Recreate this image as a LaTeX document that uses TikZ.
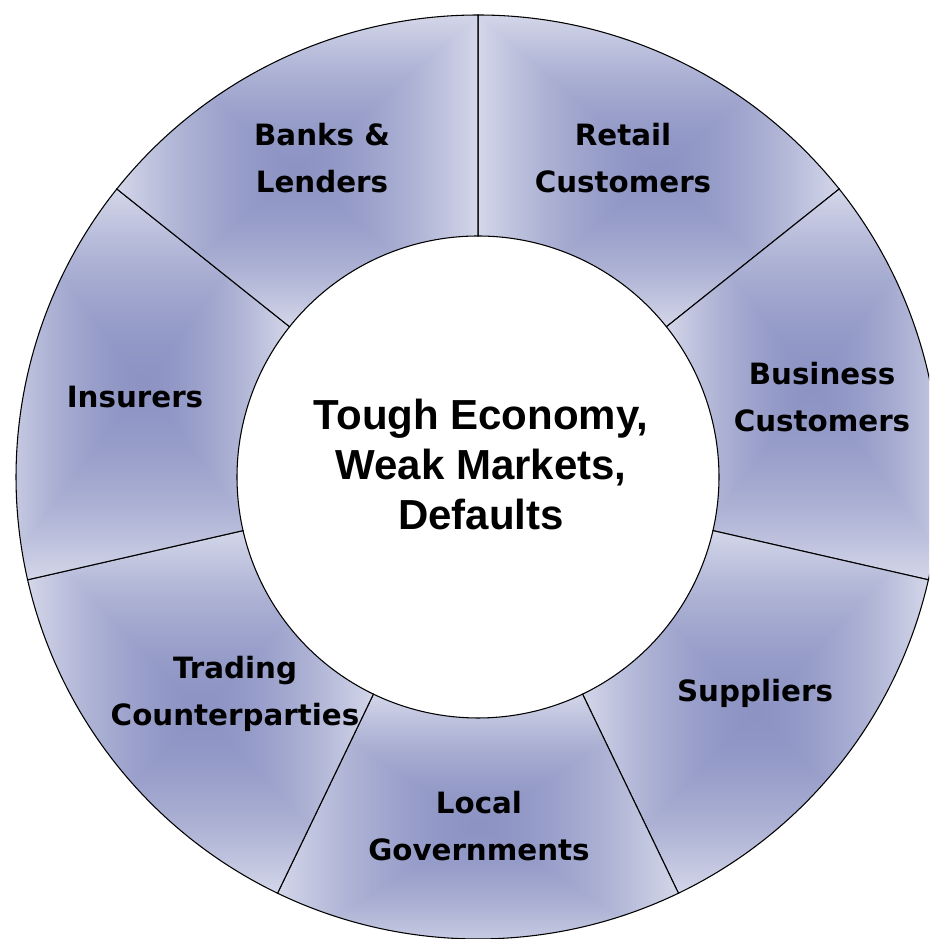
\documentclass[tikz,border=0pt]{standalone}
\usepackage{fontspec}
\newfontfamily\hubfont{Liberation Sans}
\newfontfamily\ringfont{DejaVu Sans}

% box gradient: dark blue in the middle, pale towards the bounding box
\pgfdeclarefunctionalshading{boxfade}{\pgfpoint{-50bp}{-50bp}}{\pgfpoint{50bp}{50bp}}{}{
 abs exch abs 2 copy lt {exch} if pop 25 div dup 1 gt {pop 1} if 1.7 exp
 dup 0.278 mul 0.553 add exch dup 0.263 mul 0.580 add exch 0.147 mul 0.767 add}

\tikzset{
 wedge/.style={draw=black,line width=.8pt,shade,shading=boxfade},
 ringlabel/.style={font=\ringfont\bfseries\fontsize{22}{35}\selectfont,align=center,inner sep=0pt},
 hub/.style={font=\hubfont\bfseries\fontsize{31.5}{37.5}\selectfont,align=center,inner sep=0pt}
}

\begin{document}
\begin{tikzpicture}[x=.75pt,y=.75pt]
\useasboundingbox (-478,-462) rectangle (451,477);
\clip (-478,-462) rectangle (451,477);
% seven ring segments
\foreach \k in {0,...,6} {
 \pgfmathsetmacro\s{90-360/7*\k}
 \pgfmathsetmacro\e{\s-360/7}
 \draw[wedge] (\s:241) -- (\s:462) arc[start angle=\s,end angle=\e,radius=462]
  -- (\e:241) arc[start angle=\e,end angle=\s,radius=241] -- cycle;
}
\node[hub] (hub) at (3,13) {Tough Economy,\\Weak Markets,\\Defaults};
\foreach \name/\pos/\txt in {banks/{-156,319}/{Banks \&\\Lenders},
  retail/{145,319}/{Retail\\Customers},
  business/{344,80}/{Business\\Customers},
  suppliers/{277,-216}/{Suppliers},
  local/{1,-349}/{Local\\Governments},
  trading/{-243,-217}/{Trading\\Counterparties},
  insurers/{-343,80}/{Insurers}}
 \node[ringlabel] (\name) at (\pos) {\txt};
\end{tikzpicture}
\end{document}
